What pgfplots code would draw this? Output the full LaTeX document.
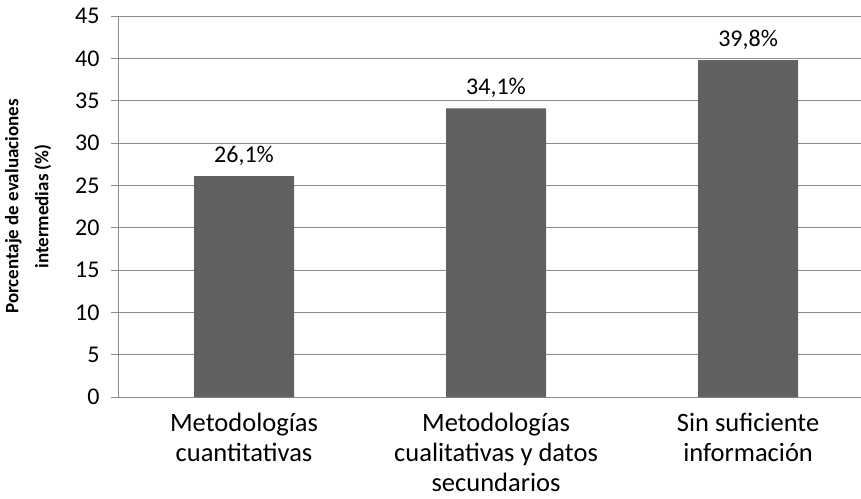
\documentclass[border=0pt]{standalone}
\usepackage{fontspec}
\setmainfont{Carlito}
\usepackage{pgfplots}
\pgfplotsset{compat=1.18}
\definecolor{barra}{HTML}{616161}
\definecolor{rejilla}{HTML}{8C8C8C}
\begin{document}
\begin{tikzpicture}
\useasboundingbox (-118pt,-101pt) rectangle (743pt,397pt);
\begin{axis}[
  at={(0,0)}, anchor=south west,
  scale only axis,
  width=743pt, height=381pt,
  ybar, bar width=100pt,
  xmin=-0.5, xmax=2.448,
  ymin=0, ymax=45,
  ytick={0,5,...,45},
  xtick={0,1,2},
  xticklabels={{Metodologías\\cuantitativas},{Metodologías\\cualitativas y datos\\secundarios},{Sin suficiente\\información}},
  x tick label style={align=center, font=\fontsize{26.5}{30}\selectfont, yshift=-6pt},
  major x tick style={draw=none},
  extra x ticks={-0.5,0.5,1.5},
  extra x tick labels={},
  extra x tick style={grid=none, major tick length=8pt, tick style={draw=rejilla, line width=0.8pt}},
  y tick label style={font=\fontsize{24}{28}\selectfont, xshift=-8pt},
  /pgf/number format/assume math mode=true,
  ymajorgrids,
  grid style={rejilla, line width=0.8pt},
  axis x line=bottom, axis y line=left,
  axis line style={-, rejilla, line width=0.8pt},
  y tick style={rejilla, line width=0.8pt},
  tick align=outside,
  major tick length=7pt,
  ylabel={Porcentaje de evaluaciones\\intermedias (\%)},
  ylabel style={align=center, font=\bfseries\fontsize{19}{30}\selectfont, at={(axis description cs:-0.121,0.5)}, anchor=center},
  nodes near coords={\pgfmathprintnumber[fixed, precision=1, use comma]{\pgfplotspointmeta}\%},
  nodes near coords style={font=\fontsize{24}{28}\selectfont, black, yshift=7pt},
  clip=false,
]
\addplot[fill=barra, draw=none] coordinates {(0,26.1) (1,34.1) (2,39.8)};
\end{axis}
\end{tikzpicture}
\end{document}
